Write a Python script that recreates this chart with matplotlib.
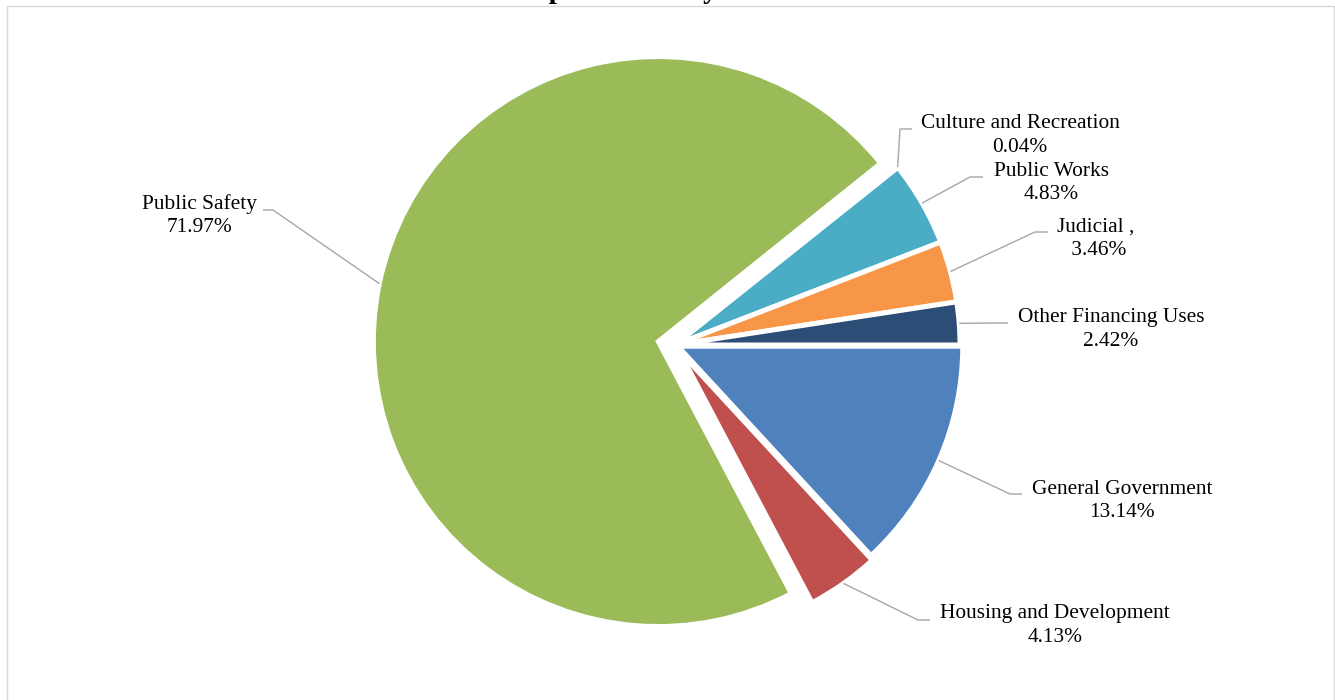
import numpy as np
import matplotlib
matplotlib.use("Agg")
import matplotlib.pyplot as plt
from matplotlib.patches import Rectangle

# ---- data ----
categories = ["General Government", "Housing and Development", "Public Safety",
              "Culture and Recreation", "Public Works", "Judicial ,", "Other Financing Uses"]
values = [13.14, 4.13, 71.97, 0.04, 4.83, 3.46, 2.42]
pct_labels = ["13.14%", "4.13%", "71.97%", "0.04%", "4.83%", " 3.46%", "2.42%"]
colors = ["#4F81BD", "#C0504D", "#9BBB59", "#8064A2", "#4BACC6", "#F79646", "#2C4D75"]
title = "Expenditures by Function"

# ---- layout (pixels, origin top-left) ----
W, H = 1335, 700
center_px = (675, 345)
radius = 285
explode_px = [3, 7, 17, 0, 0, 0, 0]
# text block centers
text_pos = [(1122, 501), (1055, 625.5), (200, 215.5), (1020, 135.5),
            (1051, 183), (1096, 238.5), (1111, 329.5)]
# horizontal stub: (elbow x, text-side x, y)
stubs = [(1010, 1022, 494), (918, 930, 620), (273, 263, 210), (900, 912, 129),
         (970, 983, 177), (1035, 1048, 232), (995, 1008, 323)]

fig = plt.figure(figsize=(W / 100, H / 100), dpi=100)
ax = fig.add_axes([0, 0, 1, 1])

def fy(y):
    return H - y

wedges, _ = ax.pie(values, colors=colors, startangle=0, counterclock=False,
                   explode=explode_px, radius=radius,
                   center=(center_px[0], fy(center_px[1])),
                   wedgeprops=dict(edgecolor="white", linewidth=3.6),
                   frame=True)
ax.set_xlim(0, W)
ax.set_ylim(0, H)
ax.set_aspect("equal")
ax.axis("off")

font = ["Liberation Serif", "DejaVu Serif"]
line_col = "#A6A6A6"
for i, w in enumerate(wedges):
    mid = np.deg2rad((w.theta1 + w.theta2) / 2.0)
    cx, cy = w.center
    r = w.r
    axp = cx + r * np.cos(mid)
    ayp = cy + r * np.sin(mid)
    ex, sx, sy = stubs[i]
    ax.plot([axp, ex, sx], [ayp, fy(sy), fy(sy)], color=line_col, lw=1.0,
            solid_capstyle="butt", zorder=3)
    tx, ty = text_pos[i]
    ax.text(tx, fy(ty), categories[i] + "\n" + pct_labels[i], ha="center", va="center",
            multialignment="center", fontsize=15.4, family=font, linespacing=1.33,
            color="#000000", zorder=4)

# title (mostly above the visible canvas, as in the reference)
ax.text(675, fy(-2), title, ha="center", va="baseline", fontsize=20.8,
        fontweight="bold", family=font, clip_on=False)

# chart frame
ax.add_patch(Rectangle((7, -10), 1327, fy(6) + 10, fill=False, edgecolor="#D9D9D9",
                       lw=1.0, clip_on=False, zorder=0))

fig.savefig("out.png", dpi=100)
